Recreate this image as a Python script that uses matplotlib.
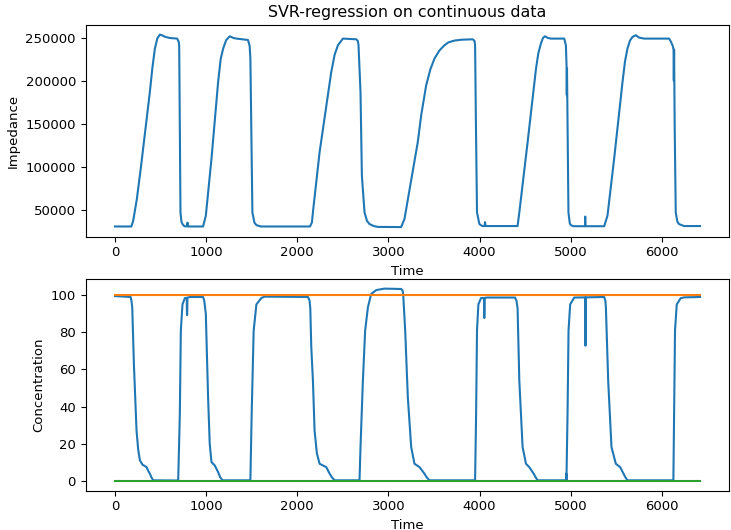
import matplotlib
matplotlib.use("Agg")
import matplotlib.pyplot as plt

# Impedance series (time, value)
imp_t = [0, 180, 200, 240, 287, 383, 410, 438, 465, 493, 520, 548, 600, 683, 700, 705, 712, 719, 730, 741,
         760, 778, 790, 796, 800, 967, 997, 1059, 1132, 1160, 1187, 1220, 1260, 1300, 1333, 1460, 1478,
         1486, 1508, 1530, 1552, 1600, 2140, 2161, 2175, 2245, 2373, 2410, 2446, 2501, 2647, 2665, 2672,
         2694, 2709, 2738, 2765, 2793, 2840, 2884, 3140, 3176, 3322, 3360, 3414, 3460, 3505, 3560, 3614,
         3660, 3724, 3800, 3925, 3945, 3951, 3960, 3972, 3998, 4030, 4055, 4060, 4065, 4417, 4436, 4527,
         4619, 4645, 4673, 4695, 4717, 4750, 4783, 4929, 4947, 4955, 4957, 4959, 4962, 4975, 4990, 5002,
         5030, 5157, 5159, 5161, 5367, 5403, 5476, 5568, 5595, 5622, 5650, 5677, 5714, 5750, 5805, 6079,
         6100, 6120, 6128, 6131, 6134, 6140, 6152, 6170, 6188, 6243, 6418]
imp_v = [30500, 30500, 37000, 62000, 101000, 186600, 214000, 237000, 249000, 253400, 252500, 251000,
         249500, 248800, 245000, 241000, 150000, 46800, 36000, 33300, 31000, 30500, 31000, 35000, 30500,
         30500, 43000, 109000, 198300, 225000, 237100, 247000, 251500, 249500, 248800, 247200, 240000,
         225500, 46800, 35000, 32100, 30500, 30500, 35200, 50000, 116700, 209900, 230000, 241000, 248800,
         248000, 246000, 241000, 186600, 89600, 46800, 37000, 33300, 31000, 30000, 29800, 39100, 128400,
         160000, 194400, 213000, 225500, 235000, 241000, 244500, 246500, 247500, 248000, 246000, 241000,
         150000, 46800, 33300, 31000, 31000, 35600, 31000, 31000, 46800, 128400, 213800, 232000, 243000,
         249500, 251500, 249500, 248800, 248800, 241000, 214000, 183000, 214000, 183000, 46800, 34000,
         32000, 30800, 30800, 42000, 30800, 30800, 43000, 109000, 198300, 222000, 237100, 246500, 250700,
         252700, 250000, 248800, 248800, 245000, 240000, 236000, 200000, 236000, 150000, 46800, 36000,
         33300, 31000, 31000]

# Predicted concentration series (time, value)
conc_t = [0, 172, 181, 190, 208, 237, 255, 274, 303, 330, 347, 365, 383, 400, 420, 694, 712, 723, 741, 767,
          788, 790, 793, 795, 822, 967, 980, 997, 1022, 1040, 1059, 1095, 1132, 1155, 1180, 1486, 1500,
          1522, 1552, 1607, 1643, 2118, 2135, 2143, 2154, 2172, 2190, 2215, 2245, 2318, 2355, 2380, 2410,
          2683, 2694, 2720, 2745, 2775, 2811, 2866, 2957, 3140, 3155, 3162, 3184, 3213, 3250, 3286, 3341,
          3395, 3420, 3450, 3951, 3962, 3972, 3987, 4016, 4050, 4052, 4055, 4083, 4389, 4405, 4417, 4436,
          4472, 4509, 4545, 4593, 4615, 4637, 4947, 4950, 4953, 4965, 4976, 4994, 5038, 5160, 5162, 5164,
          5367, 5380, 5386, 5411, 5447, 5495, 5542, 5579, 5600, 5622, 6126, 6134, 6144, 6163, 6207, 6250,
          6418]
conc_v = [99.5, 99, 97, 93.4, 63, 27.2, 17, 11.1, 8.8, 8, 7.5, 5.5, 4, 2, 0.4, 0.3, 36, 81, 95, 98.4,
          98.6, 89.3, 89.3, 98.6, 99, 99, 97, 89.9, 45, 20, 10.2, 8.4, 4.8, 2, 0.4, 0.4, 36, 81, 95, 98.5,
          99.2, 99, 97, 93, 72, 54, 27.2, 15, 9.3, 7.5, 4, 2, 0.4, 0.4, 18.3, 54, 81, 93.4, 100.6, 102.7,
          103.5, 103.3, 102.5, 100.6, 81, 45, 18.3, 9.3, 7.5, 4, 2, 0.4, 0.4, 36, 81, 95, 98.4, 98.5, 87.7,
          98.5, 98.7, 98.7, 97, 93, 54, 18.3, 9.3, 7.5, 4, 2, 0.4, 0.4, 4, 0.4, 36, 81, 95, 98.7, 98.8, 72.8,
          98.8, 99, 97, 93, 54, 18.3, 9.3, 7.5, 4, 2, 0.4, 0.4, 36, 81, 95, 98.4, 98.8, 99]

# Reference levels
level_t = [0, 6418]
upper_v = [100, 100]
lower_v = [0, 0]

plt.rcParams['font.family'] = ['DejaVu Sans']
plt.rcParams['font.size'] = 9.5

fig = plt.figure(figsize=(7.31, 5.30), dpi=100)
ax1 = fig.add_axes([0.1172, 0.5534, 0.8804, 0.3994])
ax2 = fig.add_axes([0.1172, 0.0742, 0.8804, 0.3994])

ax1.plot(imp_t, imp_v, color='#1f77b4', lw=1.5)
ax1.set_title("SVR-regression on continuous data", fontsize=11.4)
ax1.set_xlabel("Time")
ax1.set_ylabel("Impedance")
ax1.set_xticks([0, 1000, 2000, 3000, 4000, 5000, 6000])
ax1.set_yticks([50000, 100000, 150000, 200000, 250000])

ax2.plot(conc_t, conc_v, color='#1f77b4', lw=1.5)
ax2.plot(level_t, upper_v, color='#ff7f0e', lw=1.5)
ax2.plot(level_t, lower_v, color='#2ca02c', lw=1.5)
ax2.set_xlabel("Time")
ax2.set_ylabel("Concentration")
ax2.set_xticks([0, 1000, 2000, 3000, 4000, 5000, 6000])
ax2.set_yticks([0, 20, 40, 60, 80, 100])

for ax in (ax1, ax2):
    ax.tick_params(labelsize=9.5)

fig.savefig("out.png", dpi=100)
